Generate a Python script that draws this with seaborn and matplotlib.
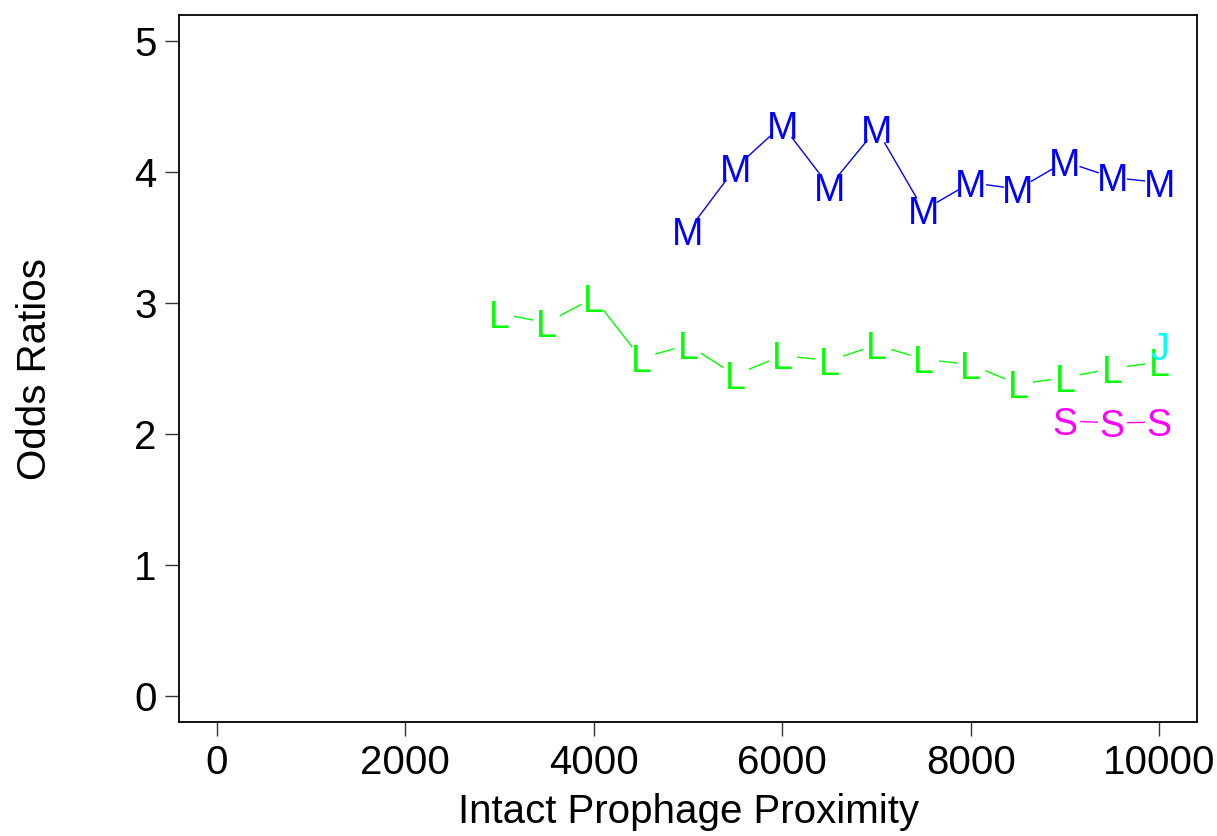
import numpy as np
import pandas as pd
import matplotlib
matplotlib.use("Agg")
import matplotlib.pyplot as plt
import seaborn as sns

# ---- data ----
m_x = [5000, 5500, 6000, 6500, 7000, 7500, 8000, 8500, 9000, 9500, 10000]
m_y = [3.55, 4.03, 4.36, 3.89, 4.33, 3.71, 3.92, 3.87, 4.08, 3.96, 3.92]
l_x = [3000, 3500, 4000, 4500, 5000, 5500, 6000, 6500, 7000, 7500, 8000, 8500, 9000, 9500, 10000]
l_y = [2.92, 2.85, 3.04, 2.58, 2.68, 2.45, 2.60, 2.56, 2.68, 2.57, 2.53, 2.38, 2.43, 2.50, 2.55]
s_x = [9000, 9500, 10000]
s_y = [2.10, 2.085, 2.09]
j_x = [10000]
j_y = [2.67]

series_names = ["M", "L", "S", "J"]
series_colors = {"M": "#0000FF", "L": "#00FF00", "S": "#FF00FF", "J": "#00FFFF"}
x_ticks = [0, 2000, 4000, 6000, 8000, 10000]
y_ticks = [0, 1, 2, 3, 4, 5]

frames = []
for name, xs, ys in [("M", m_x, m_y), ("L", l_x, l_y), ("S", s_x, s_y), ("J", j_x, j_y)]:
    frames.append(pd.DataFrame({"x": xs, "y": ys, "series": name}))
df = pd.concat(frames, ignore_index=True)

sns.set_style("white")
plt.rcParams["font.family"] = ["Liberation Sans", "DejaVu Sans"]

fig = plt.figure(figsize=(12.17, 8.36), dpi=100)
ax = fig.add_axes([179 / 1217, 1 - 722 / 836, (1197 - 179) / 1217, (722 - 15) / 836])

sns.lineplot(data=df, x="x", y="y", hue="series", palette=series_colors,
             hue_order=series_names, sort=False, estimator=None,
             linewidth=1.0, legend=False, ax=ax, zorder=1)

# white gaps around the letter points (like R type="b")
ax.plot(df["x"], df["y"], linestyle="none", marker="o", markersize=21,
        markerfacecolor="white", markeredgecolor="none", zorder=2)

for _, row in df.iterrows():
    ax.text(row["x"], row["y"], row["series"], color=series_colors[row["series"]],
            fontsize=27, ha="center", va="center_baseline", zorder=3)

ax.set_xlim(-400, 10400)
ax.set_ylim(-0.2, 5.2)
ax.set_xticks(x_ticks)
ax.set_xticklabels([str(t) for t in x_ticks])
ax.set_yticks(y_ticks)
ax.set_yticklabels([str(t) for t in y_ticks])

for sp in ax.spines.values():
    sp.set_visible(True)
    sp.set_color("black")
    sp.set_linewidth(1.3)

ax.tick_params(axis="both", direction="out", length=10, width=1.0, color="#333333",
               labelsize=29, pad=6, labelcolor="black")
ax.tick_params(axis="both", which="both", bottom=True, left=True)

ax.set_xlabel("Intact Prophage Proximity", fontsize=29, labelpad=8, color="black")
ax.set_ylabel("Odds Ratios", fontsize=29, labelpad=58, color="black")

fig.savefig("out.png", dpi=100, facecolor="white")
